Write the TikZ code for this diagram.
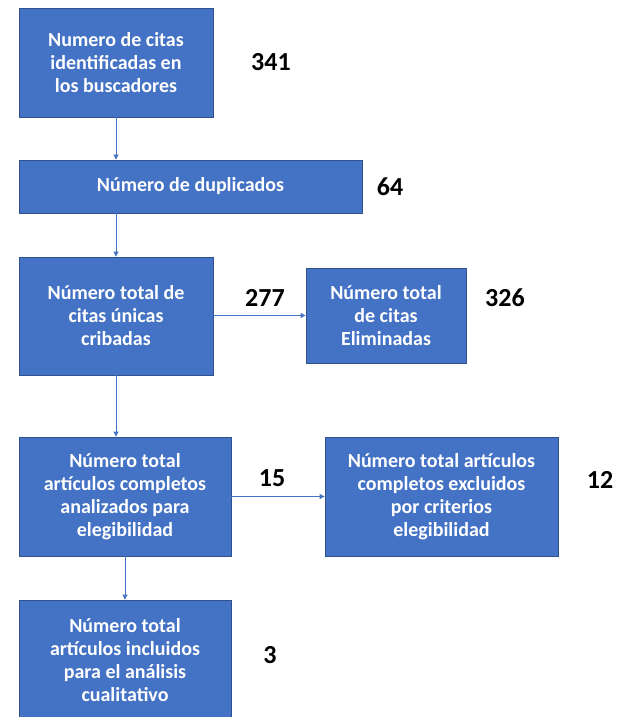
\documentclass[tikz,border=0pt]{standalone}
\usepackage{fontspec}
\setmainfont{Carlito}
\usepackage{tikz}
\usetikzlibrary{arrows.meta, positioning}
\definecolor{boxblue}{HTML}{4472C4}
\definecolor{boxedge}{HTML}{2F528F}
\tikzset{
  flowbox/.style={draw=boxedge, fill=boxblue, line width=0.8pt, text=white,
    font=\fontsize{20}{23}\selectfont\bfseries, align=center, inner sep=2pt},
  flowarrow/.style={-{Triangle[length=5pt,width=5pt]}, draw=boxblue, line width=0.8pt},
  countlabel/.style={font=\fontsize{26}{30}\selectfont\bfseries, text=black}
}
\begin{document}
\begin{tikzpicture}[x=1pt, y=-1pt]
    \useasboundingbox (0,0) rectangle (627,717);
    \begin{scope}
    \clip (0,0) rectangle (627,717);

    % Boxes
    \node[flowbox, minimum width=194pt, minimum height=109pt] (citas) at (116,62.5)
      {Numero de citas\\identificadas en\\los buscadores};
    \node[flowbox, minimum width=343pt, minimum height=53pt] (duplic) at (190.5,186.5)
      {Número de duplicados};
    \node[flowbox, minimum width=194pt, minimum height=118pt] (cribadas) at (116,316)
      {Número total de\\citas únicas\\cribadas};
    \node[flowbox, minimum width=160pt, minimum height=95pt] (elimin) at (386,315.5)
      {Número total\\de citas\\Eliminadas};
    \node[flowbox, minimum width=212pt, minimum height=119pt] (analiz) at (125,496.5)
      {Número total\\artículos completos\\analizados para\\elegibilidad};
    \node[flowbox, minimum width=233pt, minimum height=119pt] (exclu) at (441.5,496.5)
      {Número total artículos\\completos excluidos\\por criterios\\elegibilidad};
    \node[flowbox, minimum width=212pt, minimum height=120pt] (inclu) at (125,660)
      {Número total\\artículos incluidos\\para el análisis\\cualitativo};

    % Counts
    \node[countlabel] (n341) at (271,62) {341};
    \node[countlabel] (n64) at (390,187) {64};
    \node[countlabel] (n277) at (265,298) {277};
    \node[countlabel] (n326) at (505,298) {326};
    \node[countlabel] (n15) at (272,478) {15};
    \node[countlabel] (n12) at (600,480) {12};
    \node[countlabel] (n3) at (270,655) {3};

    % Arrows
    \draw[flowarrow] (citas.south) -- (citas.south |- duplic.north);
    \draw[flowarrow] (citas.south |- duplic.south) -- (citas.south |- cribadas.north);
    \draw[flowarrow] (cribadas.east |- elimin.west) -- (elimin.west);
    \draw[flowarrow] (cribadas.south) -- (cribadas.south |- analiz.north);
    \draw[flowarrow] (analiz.east) -- (exclu.west);
    \draw[flowarrow] (analiz.south) -- (inclu.north);
    \end{scope}
\end{tikzpicture}
\end{document}
